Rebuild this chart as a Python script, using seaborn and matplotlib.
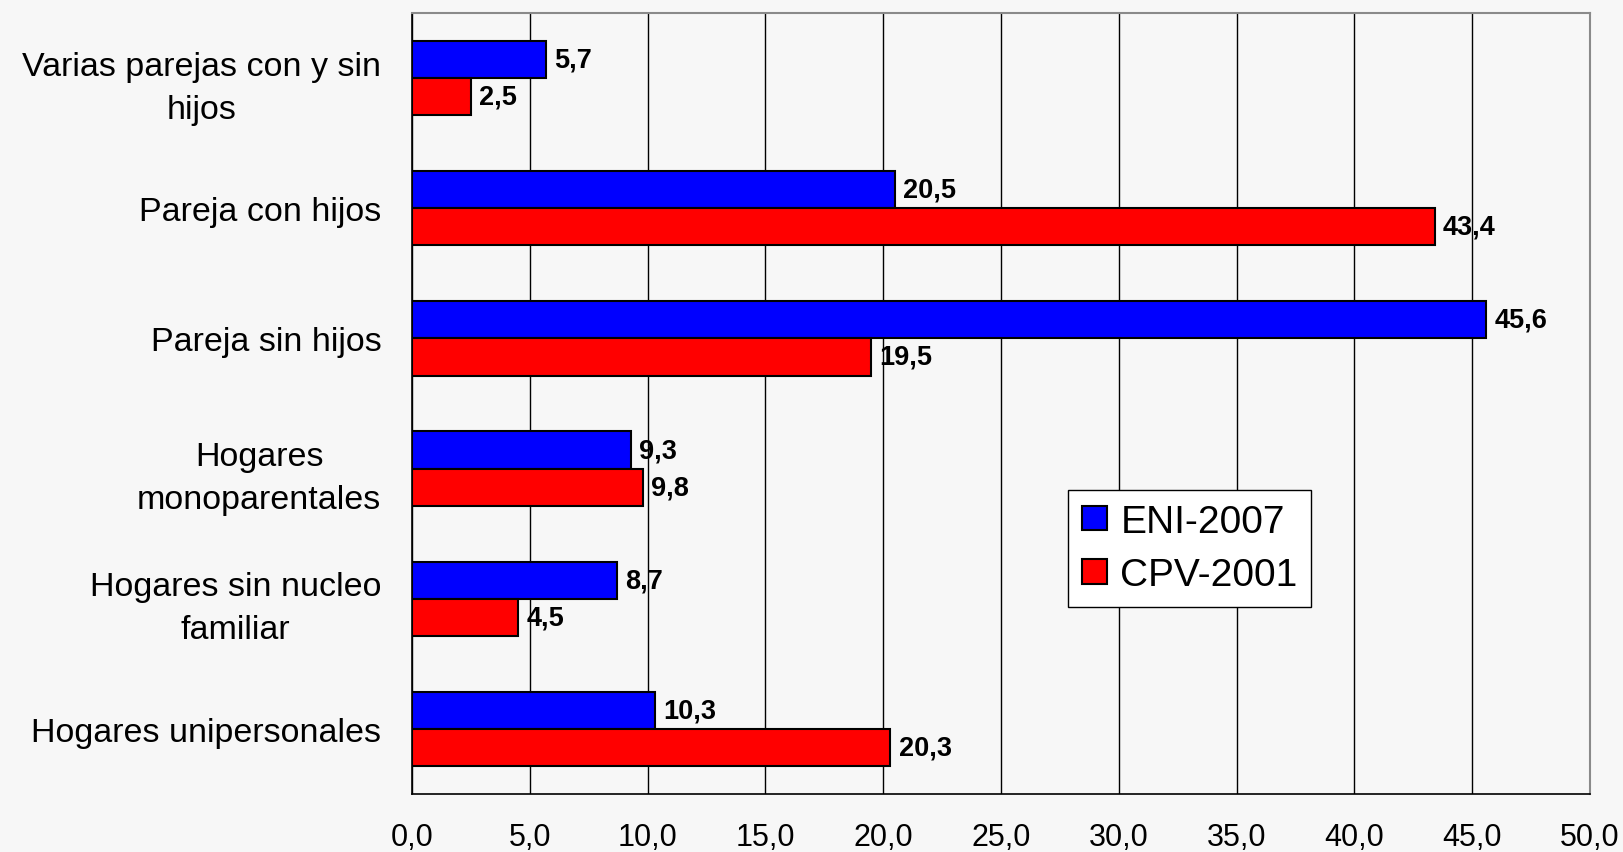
import matplotlib
matplotlib.use("Agg")
import matplotlib.pyplot as plt
import seaborn as sns
import pandas as pd
import numpy as np

# data
categorias = [
    "Varias parejas con y sin\nhijos",
    "Pareja con hijos",
    "Pareja sin hijos",
    "Hogares\nmonoparentales",
    "Hogares sin nucleo\nfamiliar",
    "Hogares unipersonales",
]
eni_2007 = [5.7, 20.5, 45.6, 9.3, 8.7, 10.3]
cpv_2001 = [2.5, 43.4, 19.5, 9.8, 4.5, 20.3]
series = ["ENI-2007", "CPV-2001"]
xticks = [0, 5, 10, 15, 20, 25, 30, 35, 40, 45, 50]

df = pd.DataFrame({
    "categoria": categorias * 2,
    "valor": eni_2007 + cpv_2001,
    "serie": [series[0]] * len(categorias) + [series[1]] * len(categorias),
})

sns.set_style("white")
plt.rcParams["font.family"] = ["Liberation Sans", "DejaVu Sans"]
plt.rcParams["text.color"] = "black"
plt.rcParams["xtick.color"] = "black"
plt.rcParams["ytick.color"] = "black"

bg = "#f7f7f7"
fig = plt.figure(figsize=(16.23, 8.53), dpi=100, facecolor=bg)
ax = fig.add_axes([0.2538, 0.0680, 0.9797 - 0.2538, 0.9836 - 0.0680])
ax.set_facecolor(bg)

sns.barplot(data=df, y="categoria", x="valor", hue="serie", orient="h",
            palette=["#0000ff", "#ff0000"], saturation=1, edgecolor="black",
            linewidth=1.5, width=0.57, gap=0, ax=ax, legend=True)

# value labels
for cont in ax.containers:
    vals = [b.get_width() for b in cont]
    ax.bar_label(cont, labels=[f"{v:.1f}".replace(".", ",") for v in vals],
                 padding=6, fontsize=19.5, fontweight="bold", color="black")

ax.set_xlim(0, 50)
ax.set_ylim(len(categorias) - 0.5, -0.5)
ax.set_xticks(xticks)
ax.set_xticklabels([f"{t:.1f}".replace(".", ",") for t in xticks], fontsize=22)
ax.set_yticks(range(len(categorias)))
ax.set_yticklabels(categorias, fontsize=24.5, multialignment="center", linespacing=1.5)
ax.set_yticks(np.arange(-0.5, len(categorias), 1.0), minor=True)
ax.tick_params(axis="y", which="major", length=0, pad=22)
ax.tick_params(axis="y", which="minor", length=8, width=1, color="black", direction="out")
ax.tick_params(axis="x", which="major", length=6.5, width=1, color="black", direction="out", pad=14)
ax.set_xlabel("")
ax.set_ylabel("")

ax.grid(axis="x", color="black", linewidth=1)
ax.set_axisbelow(True)
for side in ["left", "bottom"]:
    ax.spines[side].set_color("black")
    ax.spines[side].set_linewidth(1.2)
for side in ["top", "right"]:
    ax.spines[side].set_color("#8a8a8a")
    ax.spines[side].set_linewidth(1.5)

ax.legend(loc="upper left", bbox_to_anchor=(0.658, 0.4244), bbox_transform=fig.transFigure,
          fontsize=28, frameon=True, fancybox=False, edgecolor="black", framealpha=1,
          facecolor="white", handlelength=0.65, handleheight=0.6, handletextpad=0.35,
          labelspacing=0.45, borderpad=0.35, borderaxespad=0, title=None)

fig.savefig("out.png", dpi=100, facecolor=bg)
